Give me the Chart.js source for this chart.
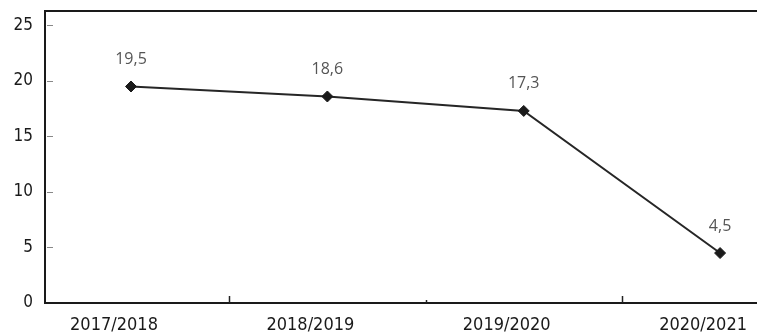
<!DOCTYPE html>
<html>
<head>
<meta charset="utf-8">
<script src="https://cdn.jsdelivr.net/npm/chart.js@4/dist/chart.umd.min.js"></script>
<style>
html,body{margin:0;padding:0;background:#fff;}
#wrap{width:757px;height:335px;overflow:hidden;}
</style>
</head>
<body>
<div id="wrap"><canvas id="c" width="757" height="335"></canvas></div>
<script>
const categories = ['2017/2018', '2018/2019', '2019/2020', '2020/2021'];
const values = [19.5, 18.6, 17.3, 4.5];
const valueLabels = ['19,5', '18,6', '17,3', '4,5'];
const yTicks = [0, 5, 10, 15, 20, 25];
const xBoundaries = [0.5, 1.5, 2.5];

const narrow = '"Liberation Sans Narrow", "DejaVu Sans Condensed", "Arial Narrow", sans-serif';

const decorPlugin = {
  id: 'decor',
  afterDraw(chart) {
    const ctx = chart.ctx;
    const a = chart.chartArea;
    const xs = chart.scales.x, ys = chart.scales.y;
    ctx.save();
    // no right border in the original
    ctx.fillStyle = '#fff';
    ctx.fillRect(a.right - 4, a.top + 2, 6, a.bottom - a.top - 4);
    // top border
    ctx.strokeStyle = '#1a1a1a';
    ctx.lineWidth = 2;
    ctx.beginPath();
    ctx.moveTo(a.left - 1, a.top);
    ctx.lineTo(a.right, a.top);
    ctx.stroke();
    // y tick marks inside
    ctx.strokeStyle = '#888';
    ctx.lineWidth = 1;
    yTicks.forEach(v => {
      if (v === 0) return;
      const y = Math.round(ys.getPixelForValue(v)) + 0.5;
      ctx.beginPath();
      ctx.moveTo(a.left + 2, y);
      ctx.lineTo(a.left + 8, y);
      ctx.stroke();
    });
    // x boundary ticks
    ctx.strokeStyle = '#222';
    ctx.lineWidth = 1.5;
    xBoundaries.forEach((v, i) => {
      const x = Math.round(xs.getPixelForValue(v)) + 0.5;
      ctx.beginPath();
      ctx.moveTo(x, a.bottom);
      ctx.lineTo(x, a.bottom - (i === 1 ? 3 : 7));
      ctx.stroke();
    });
    // value labels
    const meta = chart.getDatasetMeta(0);
    ctx.fillStyle = '#555';
    ctx.font = '16px "Open Sans", "Noto Sans", sans-serif';
    ctx.textAlign = 'center';
    ctx.textBaseline = 'middle';
    meta.data.forEach((pt, i) => {
      ctx.fillText(valueLabels[i], pt.x, pt.y - 27);
    });
    ctx.restore();
  }
};

new Chart(document.getElementById('c'), {
  type: 'scatter',
  data: {
    datasets: [{
      data: values.map((v, i) => ({ x: i, y: v })),
      showLine: true,
      borderColor: '#262626',
      borderWidth: 2,
      pointStyle: 'rectRot',
      pointRadius: 5.5,
      pointBackgroundColor: '#1a1a1a',
      pointBorderColor: '#1a1a1a',
      pointBorderWidth: 1,
      tension: 0,
      clip: false
    }]
  },
  options: {
    responsive: false,
    animation: false,
    events: [],
    layout: { autoPadding: false, padding: { top: 11, right: 0, left: 0, bottom: 0 } },
    plugins: { legend: { display: false }, tooltip: { enabled: false } },
    scales: {
      x: {
        type: 'linear',
        min: -0.438,
        max: 3.188,
        afterFit(s) { s.height = 32; s.paddingLeft = 0; s.paddingRight = 0; },
        afterBuildTicks(s) { s.ticks = categories.map((c, i) => ({ value: i })); },
        grid: { display: false, drawTicks: false },
        border: { display: true, color: '#1a1a1a', width: 2 },
        ticks: {
          autoSkip: false,
          maxRotation: 0,
          padding: 12,
          labelOffset: -17,
          color: '#1a1a1a',
          font: { family: narrow, size: 18 },
          callback: (v) => categories[v] ?? ''
        }
      },
      y: {
        min: 0,
        max: 26.3,
        afterFit(s) { s.width = 45; s.paddingTop = 0; s.paddingBottom = 0; },
        afterBuildTicks(s) { s.ticks = yTicks.map(v => ({ value: v })); },
        grid: { display: false, drawTicks: false },
        border: { display: true, color: '#1a1a1a', width: 2 },
        ticks: {
          padding: 12,
          color: '#1a1a1a',
          font: { family: narrow, size: 17 }
        }
      }
    }
  },
  plugins: [decorPlugin]
});
</script>
</body>
</html>
